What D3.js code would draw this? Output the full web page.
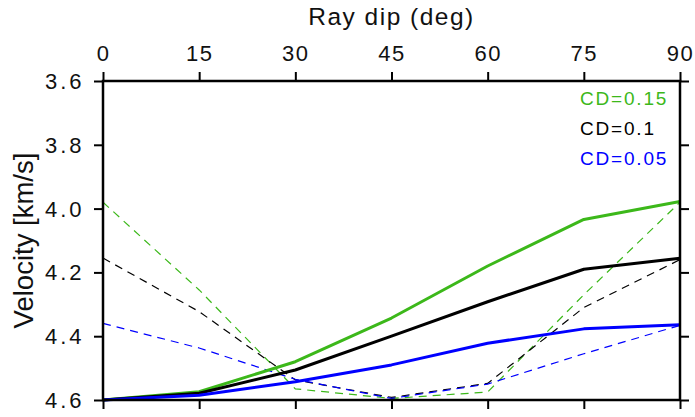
<!DOCTYPE html>
<html><head><meta charset="utf-8">
<script src="https://cdn.jsdelivr.net/npm/d3@7"></script>
<style>
body{margin:0;background:#fff;}
svg{display:block;}
text{font-family:"Liberation Sans",Arial,sans-serif;}
</style></head>
<body>
<svg id="chart" width="695" height="417"></svg>
<script>
const dips = [0, 15, 30, 45, 60, 75, 90];
const xTicks = [0, 15, 30, 45, 60, 75, 90];
const yTicks = [3.6, 3.8, 4.0, 4.2, 4.4, 4.6];
const seriesNames = ["CD=0.15", "CD=0.1", "CD=0.05"];
const seriesColors = ["#3cb81a", "#000000", "#0000ff"];
const solid015 = [4.600, 4.574, 4.480, 4.343, 4.180, 4.034, 3.978];
const solid010 = [4.600, 4.579, 4.506, 4.400, 4.292, 4.190, 4.156];
const solid005 = [4.600, 4.585, 4.543, 4.490, 4.422, 4.377, 4.364];
const dashed015 = [3.980, 4.255, 4.565, 4.595, 4.575, 4.270, 3.980];
const dashed010 = [4.155, 4.323, 4.537, 4.592, 4.548, 4.310, 4.160];
const dashed005 = [4.360, 4.437, 4.535, 4.595, 4.550, 4.455, 4.366];

const solids = [solid015, solid010, solid005];
const dashes = [dashed015, dashed010, dashed005];

const W = 695, H = 417;
const m = {left: 103, right: 15, top: 81, bottom: 17};
const svg = d3.select("#chart");
const x = d3.scaleLinear().domain([0, 90]).range([m.left, W - m.right]);
const y = d3.scaleLinear().domain([3.6, 4.6]).range([m.top, H - m.bottom]);

const line = d3.line().x((d, i) => x(dips[i])).y(d => y(d));

const g = svg.append("g");
dashes.forEach((s, k) => {
  g.append("path").datum(s).attr("d", line)
    .attr("fill", "none").attr("stroke", seriesColors[k])
    .attr("stroke-width", 1.2).attr("stroke-dasharray", "8,6");
});
solids.forEach((s, k) => {
  g.append("path").datum(s).attr("d", line)
    .attr("fill", "none").attr("stroke", seriesColors[k])
    .attr("stroke-width", 3).attr("stroke-linejoin", "round");
});

const fmtY = d3.format(".1f");
const axTop = svg.append("g").attr("transform", `translate(0,${m.top})`)
  .call(d3.axisTop(x).tickValues(xTicks).tickSize(9).tickPadding(11));
const axBottom = svg.append("g").attr("transform", `translate(0,${H - m.bottom})`)
  .call(d3.axisBottom(x).tickValues(xTicks).tickSize(9).tickFormat(""));
const axLeft = svg.append("g").attr("transform", `translate(${m.left},0)`)
  .call(d3.axisLeft(y).tickValues(yTicks).tickSize(9).tickPadding(9.5).tickFormat(fmtY));
const axRight = svg.append("g").attr("transform", `translate(${W - m.right},0)`)
  .call(d3.axisRight(y).tickValues(yTicks).tickSize(9).tickFormat(""));

[axTop, axBottom, axLeft, axRight].forEach(a => {
  a.select(".domain").remove();
  a.selectAll(".tick line").attr("stroke", "#000").attr("stroke-width", 2);
  a.selectAll(".tick text").attr("fill", "#111").attr("font-size", 22)
    .style("letter-spacing", "3px")
    .attr("font-family", '"Liberation Sans",Arial,sans-serif');
});
axTop.selectAll(".tick text").style("letter-spacing", "1.5px");
svg.append("rect").attr("x", m.left).attr("y", m.top)
  .attr("width", W - m.left - m.right).attr("height", H - m.top - m.bottom)
  .attr("fill", "none").attr("stroke", "#000").attr("stroke-width", 2.5);
axLeft.selectAll(".tick text").attr("dy", "0.34em");

svg.append("text").attr("x", (m.left + W - m.right) / 2).attr("y", 25)
  .attr("text-anchor", "middle").attr("font-size", 24.5)
  .style("letter-spacing", "1.5px").attr("fill", "#111").text("Ray dip (deg)");
svg.append("text").attr("transform", `translate(33,${(m.top + H - m.bottom) / 2}) rotate(-90)`)
  .attr("text-anchor", "middle").attr("font-size", 27.5)
  .attr("fill", "#111").text("Velocity [km/s]");

seriesNames.forEach((n, k) => {
  svg.append("text").attr("x", 580).attr("y", 105 + k * 30)
    .attr("font-size", 19).style("letter-spacing", "1.8px")
    .attr("fill", seriesColors[k]).text(n);
});
</script>
</body></html>
